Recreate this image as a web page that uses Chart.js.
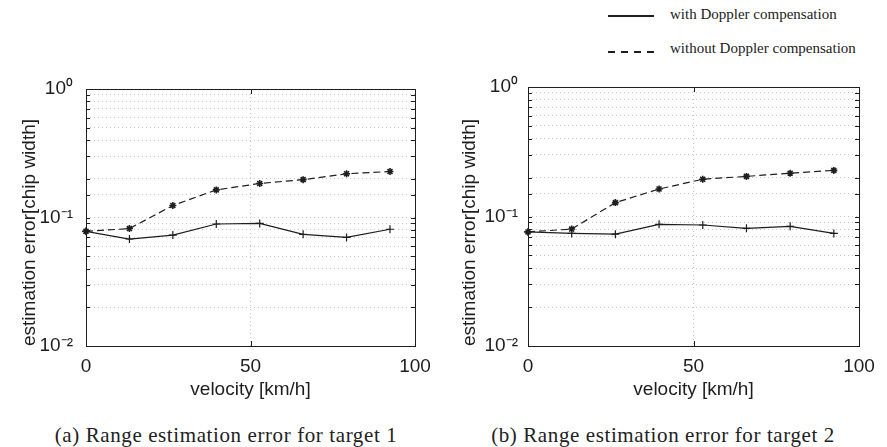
<!DOCTYPE html>
<html>
<head>
<meta charset="utf-8">
<title>Range estimation error</title>
<script src="https://cdn.jsdelivr.net/npm/chart.js@4.4.0/dist/chart.umd.min.js"></script>
<style>
    body { margin: 0; background: #fff; width: 887px; height: 447px; position: relative; overflow: hidden; }
    .panel { position: absolute; }
    .caption {
        position: absolute; top: 425px;
        font-family: "Liberation Serif", serif; font-size: 21px; line-height: 21px;
        text-align: center; color: #222; letter-spacing: 0.6px; white-space: nowrap;
    }
    .legend-row { position: absolute; left: 608px; height: 16px; font-family: "Liberation Serif", serif; font-size: 15px; line-height: 15px; color: #222; white-space: nowrap; }
    .legend-line { position: absolute; left: 0; width: 46px; height: 2px; }
    .legend-text { position: absolute; left: 62px; top: 0; }
</style>
</head>
<body>
<div class="panel" id="panelA"><canvas id="chartA"></canvas></div>
<div class="panel" id="panelB"><canvas id="chartB"></canvas></div>
<div id="legend"></div>
<div class="caption" id="captionA"></div>
<div class="caption" id="captionB"></div>

<script>
// velocity [km/h] of the simulated points
const velocity = [0, 13.2, 26.4, 39.6, 52.8, 66, 79.2, 92.4];

const seriesLabels = ['with Doppler compensation', 'without Doppler compensation'];

// target 1
const target1With = [0.078, 0.068, 0.073, 0.089, 0.090, 0.074, 0.070, 0.081];
const target1Without = [0.078, 0.082, 0.124, 0.164, 0.184, 0.197, 0.219, 0.228];

// target 2
const target2With = [0.076, 0.074, 0.073, 0.087, 0.086, 0.081, 0.084, 0.074];
const target2Without = [0.076, 0.080, 0.128, 0.163, 0.194, 0.204, 0.216, 0.227];

const yDecades = [0.01, 0.1, 1];
const yTickLabels = ['10\u207B\u00B2', '10\u207B\u00B9', '10\u2070'];
const xTicks = [0, 50, 100];

const captions = [
    '(a) Range estimation error for target 1',
    '(b) Range estimation error for target 2'
];

const INK = '#1e1e1e';
const AXIS_FONT = "'Liberation Sans', Arial, sans-serif";

// box around the plot area plus MATLAB-style inward ticks
const framePlugin = {
    id: 'frame',
    afterDatasetsDraw(chart) {
        const { ctx, chartArea: a, scales } = chart;
        ctx.save();
        ctx.strokeStyle = INK;
        ctx.lineWidth = 1;
        ctx.beginPath();
        scales.x.ticks.forEach(t => {
            const px = Math.round(scales.x.getPixelForValue(t.value)) + 0.5;
            ctx.moveTo(px, a.bottom); ctx.lineTo(px, a.bottom - 5);
            ctx.moveTo(px, a.top); ctx.lineTo(px, a.top + 5);
        });
        scales.y.ticks.forEach(t => {
            const py = Math.round(scales.y.getPixelForValue(t.value)) + 0.5;
            ctx.moveTo(a.left, py); ctx.lineTo(a.left + 4, py);
            ctx.moveTo(a.right, py); ctx.lineTo(a.right - 4, py);
        });
        ctx.stroke();
        ctx.strokeRect(Math.round(a.left) + 0.5, Math.round(a.top) + 0.5,
            Math.round(a.right - a.left), Math.round(a.bottom - a.top));
        ctx.restore();
    }
};

function decadeLabel(value) {
    const i = yDecades.findIndex(d => Math.abs(d - value) / d < 1e-6);
    return i >= 0 ? yTickLabels[i] : '';
}

function makeChart(canvasId, withData, withoutData, layout) {
    const panel = document.getElementById(canvasId).parentNode;
    panel.style.left = layout.left + 'px';
    panel.style.top = layout.top + 'px';
    panel.style.width = layout.width + 'px';
    panel.style.height = layout.height + 'px';

    const ctx = document.getElementById(canvasId).getContext('2d');

    return new Chart(ctx, {
        type: 'line',
        data: {
            labels: velocity,
            datasets: [
                {
                    label: seriesLabels[0],
                    data: velocity.map((v, i) => ({ x: v, y: withData[i] })),
                    borderColor: INK,
                    borderWidth: 1.2,
                    pointStyle: 'cross',
                    pointRadius: 4,
                    pointBorderWidth: 1.2,
                    pointBorderColor: INK,
                    fill: false,
                    tension: 0,
                    clip: false
                },
                {
                    label: seriesLabels[1],
                    data: velocity.map((v, i) => ({ x: v, y: withoutData[i] })),
                    borderColor: INK,
                    borderWidth: 1.2,
                    borderDash: [7, 4],
                    pointStyle: 'star',
                    pointRadius: 3.5,
                    pointBorderWidth: 1.6,
                    pointBorderColor: INK,
                    fill: false,
                    tension: 0,
                    clip: false
                }
            ]
        },
        options: {
            responsive: true,
            maintainAspectRatio: false,
            animation: false,
            layout: { padding: { top: layout.padTop, right: layout.padRight, left: 0, bottom: 0 } },
            plugins: {
                legend: { display: false },
                tooltip: { enabled: false }
            },
            scales: {
                x: {
                    type: 'linear',
                    min: xTicks[0],
                    max: xTicks[xTicks.length - 1],
                    afterBuildTicks: scale => { scale.ticks = xTicks.map(v => ({ value: v })); },
                    afterFit: scale => { scale.height = 60; },
                    grid: { color: '#c4c4c4', drawTicks: false, lineWidth: 1 },
                    border: { display: false, dash: [1, 3] },
                    ticks: { color: INK, padding: 9, font: { family: AXIS_FONT, size: 19 } },
                    title: {
                        display: true,
                        text: 'velocity [km/h]',
                        color: INK,
                        padding: { top: 2, bottom: 5 },
                        font: { family: AXIS_FONT, size: 19 }
                    }
                },
                y: {
                    type: 'logarithmic',
                    min: yDecades[0],
                    max: yDecades[yDecades.length - 1],
                    afterFit: scale => { scale.width = layout.yWidth; },
                    grid: { color: '#c4c4c4', drawTicks: false, lineWidth: 1 },
                    border: { display: false, dash: [1, 3] },
                    ticks: {
                        color: INK,
                        autoSkip: false,
                        padding: layout.tickPad,
                        font: { family: AXIS_FONT, size: 19 },
                        callback: value => decadeLabel(value)
                    },
                    title: {
                        display: true,
                        text: 'estimation error[chip width]',
                        align: 'start',
                        color: INK,
                        padding: { top: layout.titlePad, bottom: 0 },
                        font: { family: AXIS_FONT, size: 19 }
                    }
                }
            }
        },
        plugins: [framePlugin]
    });
}

function buildLegend() {
    const legend = document.getElementById('legend');
    const rows = [
        { top: 7, lineTop: 8, bg: INK },
        { top: 41, lineTop: 10, bg: 'repeating-linear-gradient(to right, ' + INK + ' 0 7px, transparent 7px 13px)' }
    ];
    seriesLabels.forEach((label, i) => {
        const row = document.createElement('div');
        row.className = 'legend-row';
        row.style.top = rows[i].top + 'px';
        const line = document.createElement('div');
        line.className = 'legend-line';
        line.style.top = rows[i].lineTop + 'px';
        line.style.background = rows[i].bg;
        const text = document.createElement('span');
        text.className = 'legend-text';
        text.textContent = label;
        row.appendChild(line);
        row.appendChild(text);
        legend.appendChild(row);
    });
}

document.addEventListener('DOMContentLoaded', () => {
    makeChart('chartA', target1With, target1Without,
        { left: 0, top: 60, width: 440, height: 346, yWidth: 86, padRight: 25, padTop: 29, tickPad: 13, titlePad: 18 });
    makeChart('chartB', target2With, target2Without,
        { left: 440, top: 60, width: 447, height: 346, yWidth: 88, padRight: 28, padTop: 27, tickPad: 10, titlePad: 18 });

    buildLegend();

    const capA = document.getElementById('captionA');
    capA.style.left = '0px'; capA.style.width = '452px';
    capA.textContent = captions[0];
    const capB = document.getElementById('captionB');
    capB.style.left = '443px'; capB.style.width = '440px';
    capB.textContent = captions[1];
});
</script>
</body>
</html>
